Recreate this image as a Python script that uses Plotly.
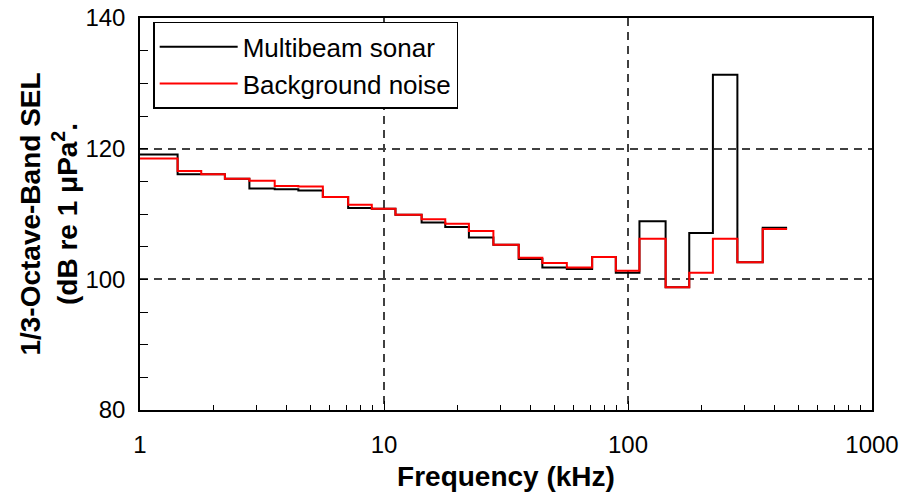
import plotly.graph_objects as go

# 1/3-octave band centre frequencies (kHz)
band_centres = [1, 1.25, 1.6, 2, 2.5, 3.15, 4, 5, 6.3, 8, 10, 12.5, 16, 20, 25,
                31.5, 40, 50, 63, 80, 100, 125, 160, 200, 250, 315, 400]
# 1/3-octave band SEL (dB re 1 uPa^2.s)
sonar_sel = [119.1, 119.1, 116.1, 116.1, 115.4, 113.9, 113.8, 113.6, 112.6, 110.9,
             110.8, 109.9, 108.7, 108.0, 106.4, 105.3, 103.1, 101.8, 101.6, 103.4,
             101.0, 108.9, 98.8, 107.1, 131.3, 102.6, 107.9]
noise_sel = [118.5, 118.5, 116.6, 116.1, 115.4, 115.1, 114.3, 114.2, 112.6, 111.4,
             110.8, 109.9, 109.2, 108.5, 107.4, 105.3, 103.3, 102.5, 101.8, 103.4,
             101.3, 106.2, 98.8, 101.0, 106.2, 102.6, 107.7]
series_names = ["Multibeam sonar", "Background noise"]
x_tick_vals = [1, 10, 100, 1000]
x_tick_text = ["1", "10", "100", "1000"]

half = 10 ** 0.05  # half-band ratio (1/3 octave, base-10)


def step_xy(centres, vals):
    xs = [c / half for c in centres] + [centres[-1] * half]
    ys = list(vals) + [vals[-1]]
    return xs, ys


fig = go.Figure()
for name, vals, col in [(series_names[0], sonar_sel, "#000000"),
                        (series_names[1], noise_sel, "#ff0000")]:
    xs, ys = step_xy(band_centres, vals)
    fig.add_trace(go.Scatter(x=xs, y=ys, mode="lines", name=name,
                             line=dict(color=col, width=2, shape="hv")))

font_main = "Liberation Sans, Arial, sans-serif"
fig.update_layout(
    width=902, height=497,
    margin=dict(l=140, r=30, t=18, b=87),
    plot_bgcolor="white", paper_bgcolor="white",
    font=dict(family=font_main, color="#000000", size=24),
    showlegend=True,
    legend=dict(x=0.018, y=0.99, xanchor="left", yanchor="top",
                bordercolor="#000000", borderwidth=1.5, bgcolor="white",
                font=dict(size=26, color="#000000"), tracegroupgap=0,
                itemwidth=78),
    xaxis=dict(
        type="log", range=[0, 3], automargin=False,
        tickvals=x_tick_vals, ticktext=x_tick_text,
        showline=True, linecolor="#000000", linewidth=1.5, mirror=True,
        ticks="inside", ticklen=9, tickcolor="#000000",
        minor=dict(ticks="inside", ticklen=5, tickcolor="#000000", dtick="D1",
                   showgrid=False),
        showgrid=True, gridcolor="#404040", griddash="8px,6px", gridwidth=1.5,
        tickfont=dict(size=24, color="#000000"),
        ticklabelstandoff=12, ticklabeloverflow="allow",
        title=dict(text="<b>Frequency (kHz)</b>", font=dict(size=28), standoff=10),
        zeroline=False,
    ),
    yaxis=dict(
        range=[80, 140], dtick=20, automargin=False,
        showline=True, linecolor="#000000", linewidth=1.5, mirror=True,
        ticks="inside", ticklen=8, tickcolor="#000000",
        minor=dict(ticks="inside", ticklen=8, tickcolor="#000000", dtick=5,
                   showgrid=False),
        showgrid=True, gridcolor="#404040", griddash="8px,6px", gridwidth=1.5,
        tickfont=dict(size=24, color="#000000"),
        ticklabelstandoff=8, ticklabeloverflow="allow",
        title=dict(text="<b>1/3-Octave-Band SEL<br>(dB re 1 μPa<sup>2</sup>.</b>",
                   font=dict(size=28), standoff=0),
        zeroline=False,
    ),
)

fig.write_html("out.html",
               config={"displayModeBar": False},
               post_script="document.body.style.margin='0';")
